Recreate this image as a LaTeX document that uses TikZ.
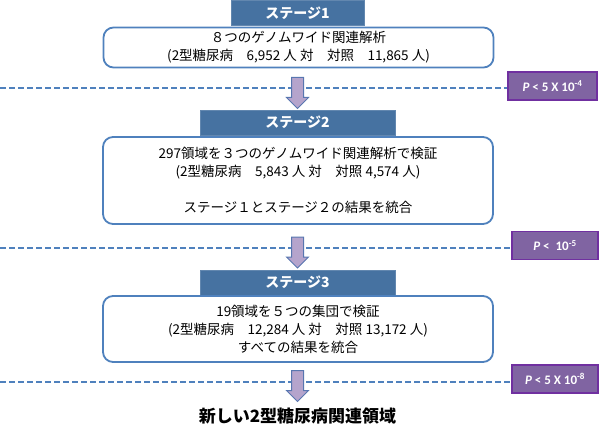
\documentclass[tikz,border=0pt]{standalone}
\usepackage{fontspec}
\setmainfont{Noto Sans CJK JP}
\newfontfamily\lat{Carlito}
\usetikzlibrary{shapes.arrows}
\definecolor{hdrfill}{RGB}{70,114,161}
\definecolor{boxline}{RGB}{79,129,189}
\definecolor{pfill}{RGB}{128,100,162}
\definecolor{pline}{RGB}{112,48,160}
\definecolor{afill}{RGB}{181,164,204}
\definecolor{aline}{RGB}{88,118,176}
\tikzset{
  hdr/.style={rectangle, fill=hdrfill, draw=hdrfill!85!white, line width=0.8pt, text=white,
    font=\fontsize{14}{16}\selectfont\bfseries, inner sep=0pt, minimum height=25pt},
  stagebox/.style={rectangle, rounded corners=10pt, draw=boxline, line width=1.8pt, fill=white,
    align=center, font=\fontsize{13.5}{18}\selectfont, inner sep=0pt, minimum width=390pt},
  pbox/.style={rectangle, fill=pfill, draw=pline, line width=1.5pt, text=white,
    font=\lat\fontsize{13}{15}\selectfont\bfseries, inner sep=0pt, minimum height=28pt},
  sepline/.style={draw=boxline, line width=1.6pt, dash pattern=on 6pt off 3pt},
  downarrow/.style={single arrow, shape border rotate=270, fill=afill, draw=aline, line width=1pt,
    inner sep=5.5pt, minimum width=21pt, single arrow head extend=5pt,
    single arrow head indent=0pt, minimum height=31pt},
}
\begin{document}
\begin{tikzpicture}[x=1pt, y=-1pt]
\useasboundingbox (0,0) rectangle (600,428);
% dashed separators and p-value boxes
\node[pbox, minimum width=89pt] (p1) at (552.5,86) {\textit{P} < 5 X 10\textsuperscript{-4}};
\node[pbox, minimum width=86pt] (p2) at (555,245.5) {\textit{P} <\ \ 10\textsuperscript{-5}};
\node[pbox, minimum width=86pt] (p3) at (555,379) {\textit{P} < 5 X 10\textsuperscript{-8}};
\coordinate (d1) at (0,88);
\coordinate (d2) at (0,248);
\coordinate (d3) at (0,382);
\draw[sepline] (d1) -- (d1 -| p1.west);
\draw[sepline] (d2) -- (d2 -| p2.west);
\draw[sepline] (d3) -- (d3 -| p3.west);
% stage 1
\node[hdr, minimum width=133pt] (h1) at (297.5,13) {ステージ1};
\node[stagebox, minimum height=40pt] (b1) at (298.5,47.5)
  {８つのゲノムワイド関連解析\\(2型糖尿病\quad 6,952 人 対\quad 対照\quad 11,865 人)};
% stage 2
\node[hdr, minimum width=195pt] (h2) at (297.5,122.5) {ステージ2};
\node[stagebox, minimum height=87pt] (b2) at (298,180.5)
  {297領域を３つのゲノムワイド関連解析で検証\\(2型糖尿病\quad 5,843 人 対\quad 対照 4,574 人)\\[18pt]ステージ１とステージ２の結果を統合};
% stage 3
\node[hdr, minimum width=195pt] (h3) at (297.5,282.5) {ステージ3};
\node[stagebox, minimum height=66pt] (b3) at (298,329)
  {19領域を５つの集団で検証\\(2型糖尿病\quad 12,284 人 対\quad 対照 13,172 人)\\すべての結果を統合};
% arrows
\node[downarrow] (a1) at (297.5,90) {};
\node[downarrow] (a2) at (297.5,249.5) {};
\node[downarrow] (a3) at (297.5,383) {};
% result
\node[font=\fontsize{17}{20}\selectfont\bfseries, inner sep=0pt] (res) at (297.5,416) {新しい2型糖尿病関連領域};
\end{tikzpicture}
\end{document}
